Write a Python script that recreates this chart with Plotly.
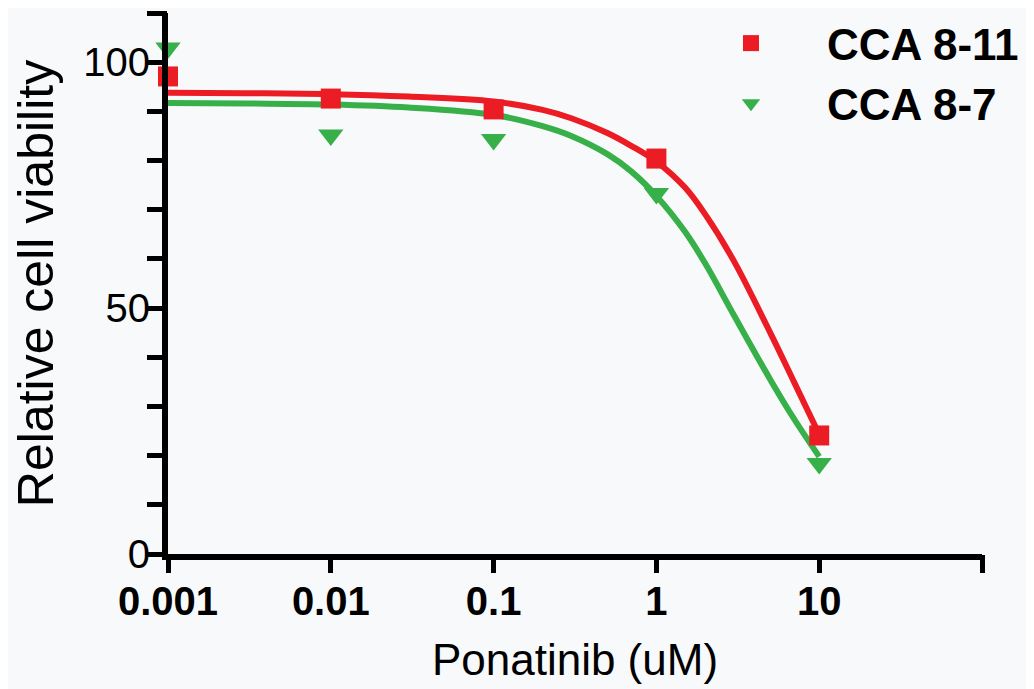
import plotly.graph_objects as go

# Measured points
conc = [0.001, 0.01, 0.1, 1, 10]
cca811 = [97.1, 92.6, 90.4, 80.4, 24.1]
cca87 = [102.9, 85.2, 84.3, 73.3, 18.4]

# Fitted curves
curve_x = [0.001, 0.003, 0.01, 0.03, 0.1, 0.2, 0.3, 0.5, 0.7, 1, 1.5, 2, 3, 5, 7, 10]
curve_811 = [93.8, 93.7, 93.5, 93.0, 92.0, 90.3, 88.6, 85.6, 83.0, 79.8, 74.5, 69.0, 59.5, 45.0, 35.0, 24.3]
curve_87 = [91.7, 91.6, 91.4, 90.8, 89.3, 87.0, 85.0, 81.3, 77.8, 72.8, 65.5, 59.0, 48.5, 35.5, 27.5, 19.8]

x_ticks = [0.001, 0.01, 0.1, 1, 10, 100]
x_ticktext = ["0.001", "0.01", "0.1", "1", "10", ""]
y_ticks = [0, 10, 20, 30, 40, 50, 60, 70, 80, 90, 100, 110]
y_ticktext = ["0", "", "", "", "", "50", "", "", "", "", "100", ""]

RED = "#EC1C24"
GREEN = "#38B04A"
BG = "#F8F9FB"
FONT = "Liberation Sans, Arial, sans-serif"

fig = go.Figure()
# invisible helper trace so the tick-only overlay axes are drawn
fig.add_trace(go.Scatter(x=conc, y=cca811, mode="markers", marker=dict(opacity=0), xaxis="x2", yaxis="y2",
                         showlegend=False, hoverinfo="skip"))
fig.add_trace(go.Scatter(x=curve_x, y=curve_87, mode="lines", line=dict(color=GREEN, width=6, shape="spline"),
                         showlegend=False, cliponaxis=False))
fig.add_trace(go.Scatter(x=curve_x, y=curve_811, mode="lines", line=dict(color=RED, width=6, shape="spline"),
                         showlegend=False, cliponaxis=False))
fig.add_trace(go.Scatter(x=conc, y=cca811, mode="markers", name="CCA 8-11",
                         marker=dict(symbol="square", size=20, color=RED), cliponaxis=False))
fig.add_trace(go.Scatter(x=conc, y=cca87, mode="markers", name="CCA 8-7",
                         marker=dict(symbol="triangle-down", size=22, color=GREEN), cliponaxis=False))

# the page body adds an 8px offset; layout coordinates compensate for it
fig.update_layout(
    width=1034, height=689,
    margin=dict(l=160, r=60, t=4.5, b=143.3, autoexpand=False),
    paper_bgcolor=BG, plot_bgcolor=BG,
    font=dict(family=FONT, color="black"),
    showlegend=True,
    legend=dict(x=667 / 1034, y=1.0, xref="container", yref="container",
                xanchor="left", yanchor="top", bgcolor="rgba(0,0,0,0)",
                font=dict(family=FONT, size=44, color="black", weight="bold"),
                itemwidth=142, tracegroupgap=0, traceorder="normal"),
    xaxis=dict(type="log", range=[-3, 2], showgrid=False, zeroline=False,
               showline=True, linecolor="black", linewidth=6,
               ticks="", tickvals=x_ticks, ticktext=x_ticktext, ticklabelstandoff=7,
               tickfont=dict(family=FONT, size=40, color="black", weight="bold"),
               title=dict(text="Ponatinib (uM)", font=dict(family=FONT, size=44, color="black"), standoff=24)),
    yaxis=dict(range=[0, 110], showgrid=False, zeroline=False,
               showline=True, linecolor="black", linewidth=6,
               ticks="", tickvals=y_ticks, ticktext=y_ticktext, ticklabelstandoff=4,
               tickfont=dict(family=FONT, size=40, color="black"),
               title=dict(text="Relative cell viability", font=dict(family=FONT, size=50, color="black"), standoff=22)),
    xaxis2=dict(type="log", range=[-3, 2], overlaying="x", side="bottom", anchor="y2",
                showgrid=False, zeroline=False, showline=False, showticklabels=False,
                ticks="outside", ticklen=18, tickwidth=5, tickcolor="black", tickvals=x_ticks),
    yaxis2=dict(range=[0, 110], overlaying="y", side="left", anchor="x2",
                showgrid=False, zeroline=False, showline=False, showticklabels=False,
                ticks="outside", ticklen=20, tickwidth=5, tickcolor="black", tickvals=y_ticks),
)

fig.write_html("out.html")
